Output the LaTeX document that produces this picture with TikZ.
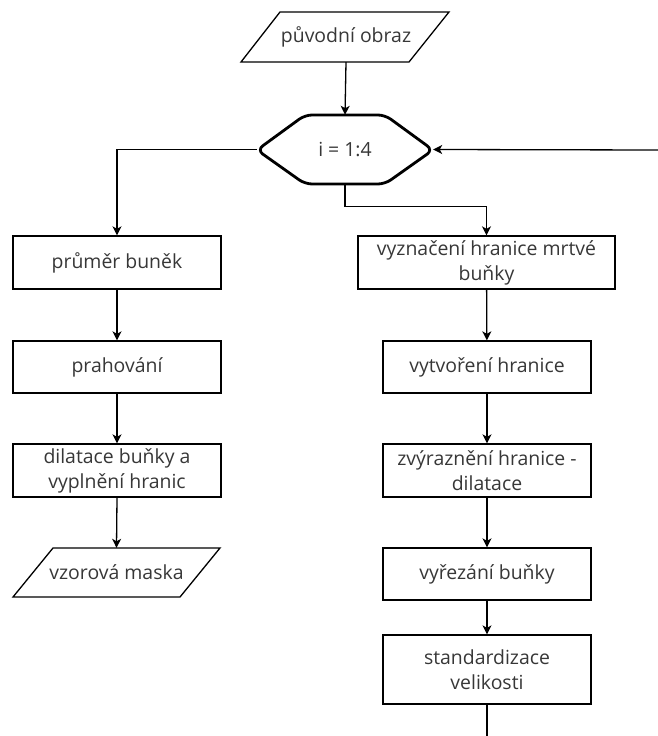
\documentclass[tikz,border=0pt]{standalone}
\usepackage{fontspec}
\setmainfont{Open Sans}
\usetikzlibrary{arrows.meta,calc}
\definecolor{txt}{RGB}{55,55,55}
\begin{document}
\begin{tikzpicture}[x=1bp,y=-1bp,
  every node/.style={font=\fontsize{19.5}{25}\selectfont, text=txt, align=center, inner sep=0pt},
  procbox/.style={draw=black, line width=1.3bp, minimum width=208bp, minimum height=53bp},
  ghost/.style={minimum width=200bp, minimum height=49bp},
  conn/.style={line width=1.3bp, draw=black},
  arr/.style={conn, -{Stealth[length=9bp,width=9bp,inset=2.5bp]}}
]
\useasboundingbox (0,0) rectangle (658,736);

% input parallelogram
\draw[line width=1.3bp] (280,12) -- (449,12) -- (409,62) -- (241,62) -- cycle;
\node[ghost, minimum height=50bp] (src) at (346,37) {původní obraz};

% loop hexagon
\draw[line width=2.8bp, rounded corners=7bp, line join=round]
  (257,150) -- (305,115) -- (385,115) -- (433,150) -- (385,184) -- (305,184) -- cycle;
\node[minimum width=176bp, minimum height=69bp] (loop) at (345,149.5) {i = 1:4};

% left column
\node[procbox] (b1) at (117,262.5) {průměr buněk};
\node[procbox, minimum height=52bp] (b2) at (117,367) {prahování};
\node[procbox] (b3) at (117,470.5) {dilatace buňky a\\vyplnění hranic};
\draw[line width=1.3bp] (53,548) -- (220,548) -- (180,597) -- (13,597) -- cycle;
\node[ghost] (mask) at (116.5,572.5) {vzorová maska};

% right column
\node[procbox, minimum width=257bp] (r1) at (486.5,262.5) {vyznačení hranice mrtvé\\buňky};
\node[procbox, minimum height=52bp] (r2) at (487,367) {vytvoření hranice};
\node[procbox] (r3) at (487,470.5) {zvýraznění hranice -\\dilatace};
\node[procbox, minimum height=52bp] (r4) at (487,574) {vyřezání buňky};
\node[procbox, minimum height=69bp] (r5) at (487,669.5) {standardizace\\velikosti};

\coordinate (back) at (658,150);
\coordinate (tail) at (487,736);

% connectors
\draw[arr] (src.south) -- (loop.north);
\draw[arr] (loop.west) -| (b1.north);
\draw[arr] (b1) -- (b2);
\draw[arr] (b2) -- (b3);
\draw[arr] (b3.south) -- (mask.north);
\draw[arr] (loop.south) -- ++(0,22) -| (r1.north);
\draw[arr] (r1) -- (r2);
\draw[arr] (r2) -- (r3);
\draw[arr] (r3) -- (r4);
\draw[arr] (r4) -- (r5);
\draw[conn] (r5.south) -- (tail);
\draw[arr] (back) -- (loop.east);
\end{tikzpicture}
\end{document}
